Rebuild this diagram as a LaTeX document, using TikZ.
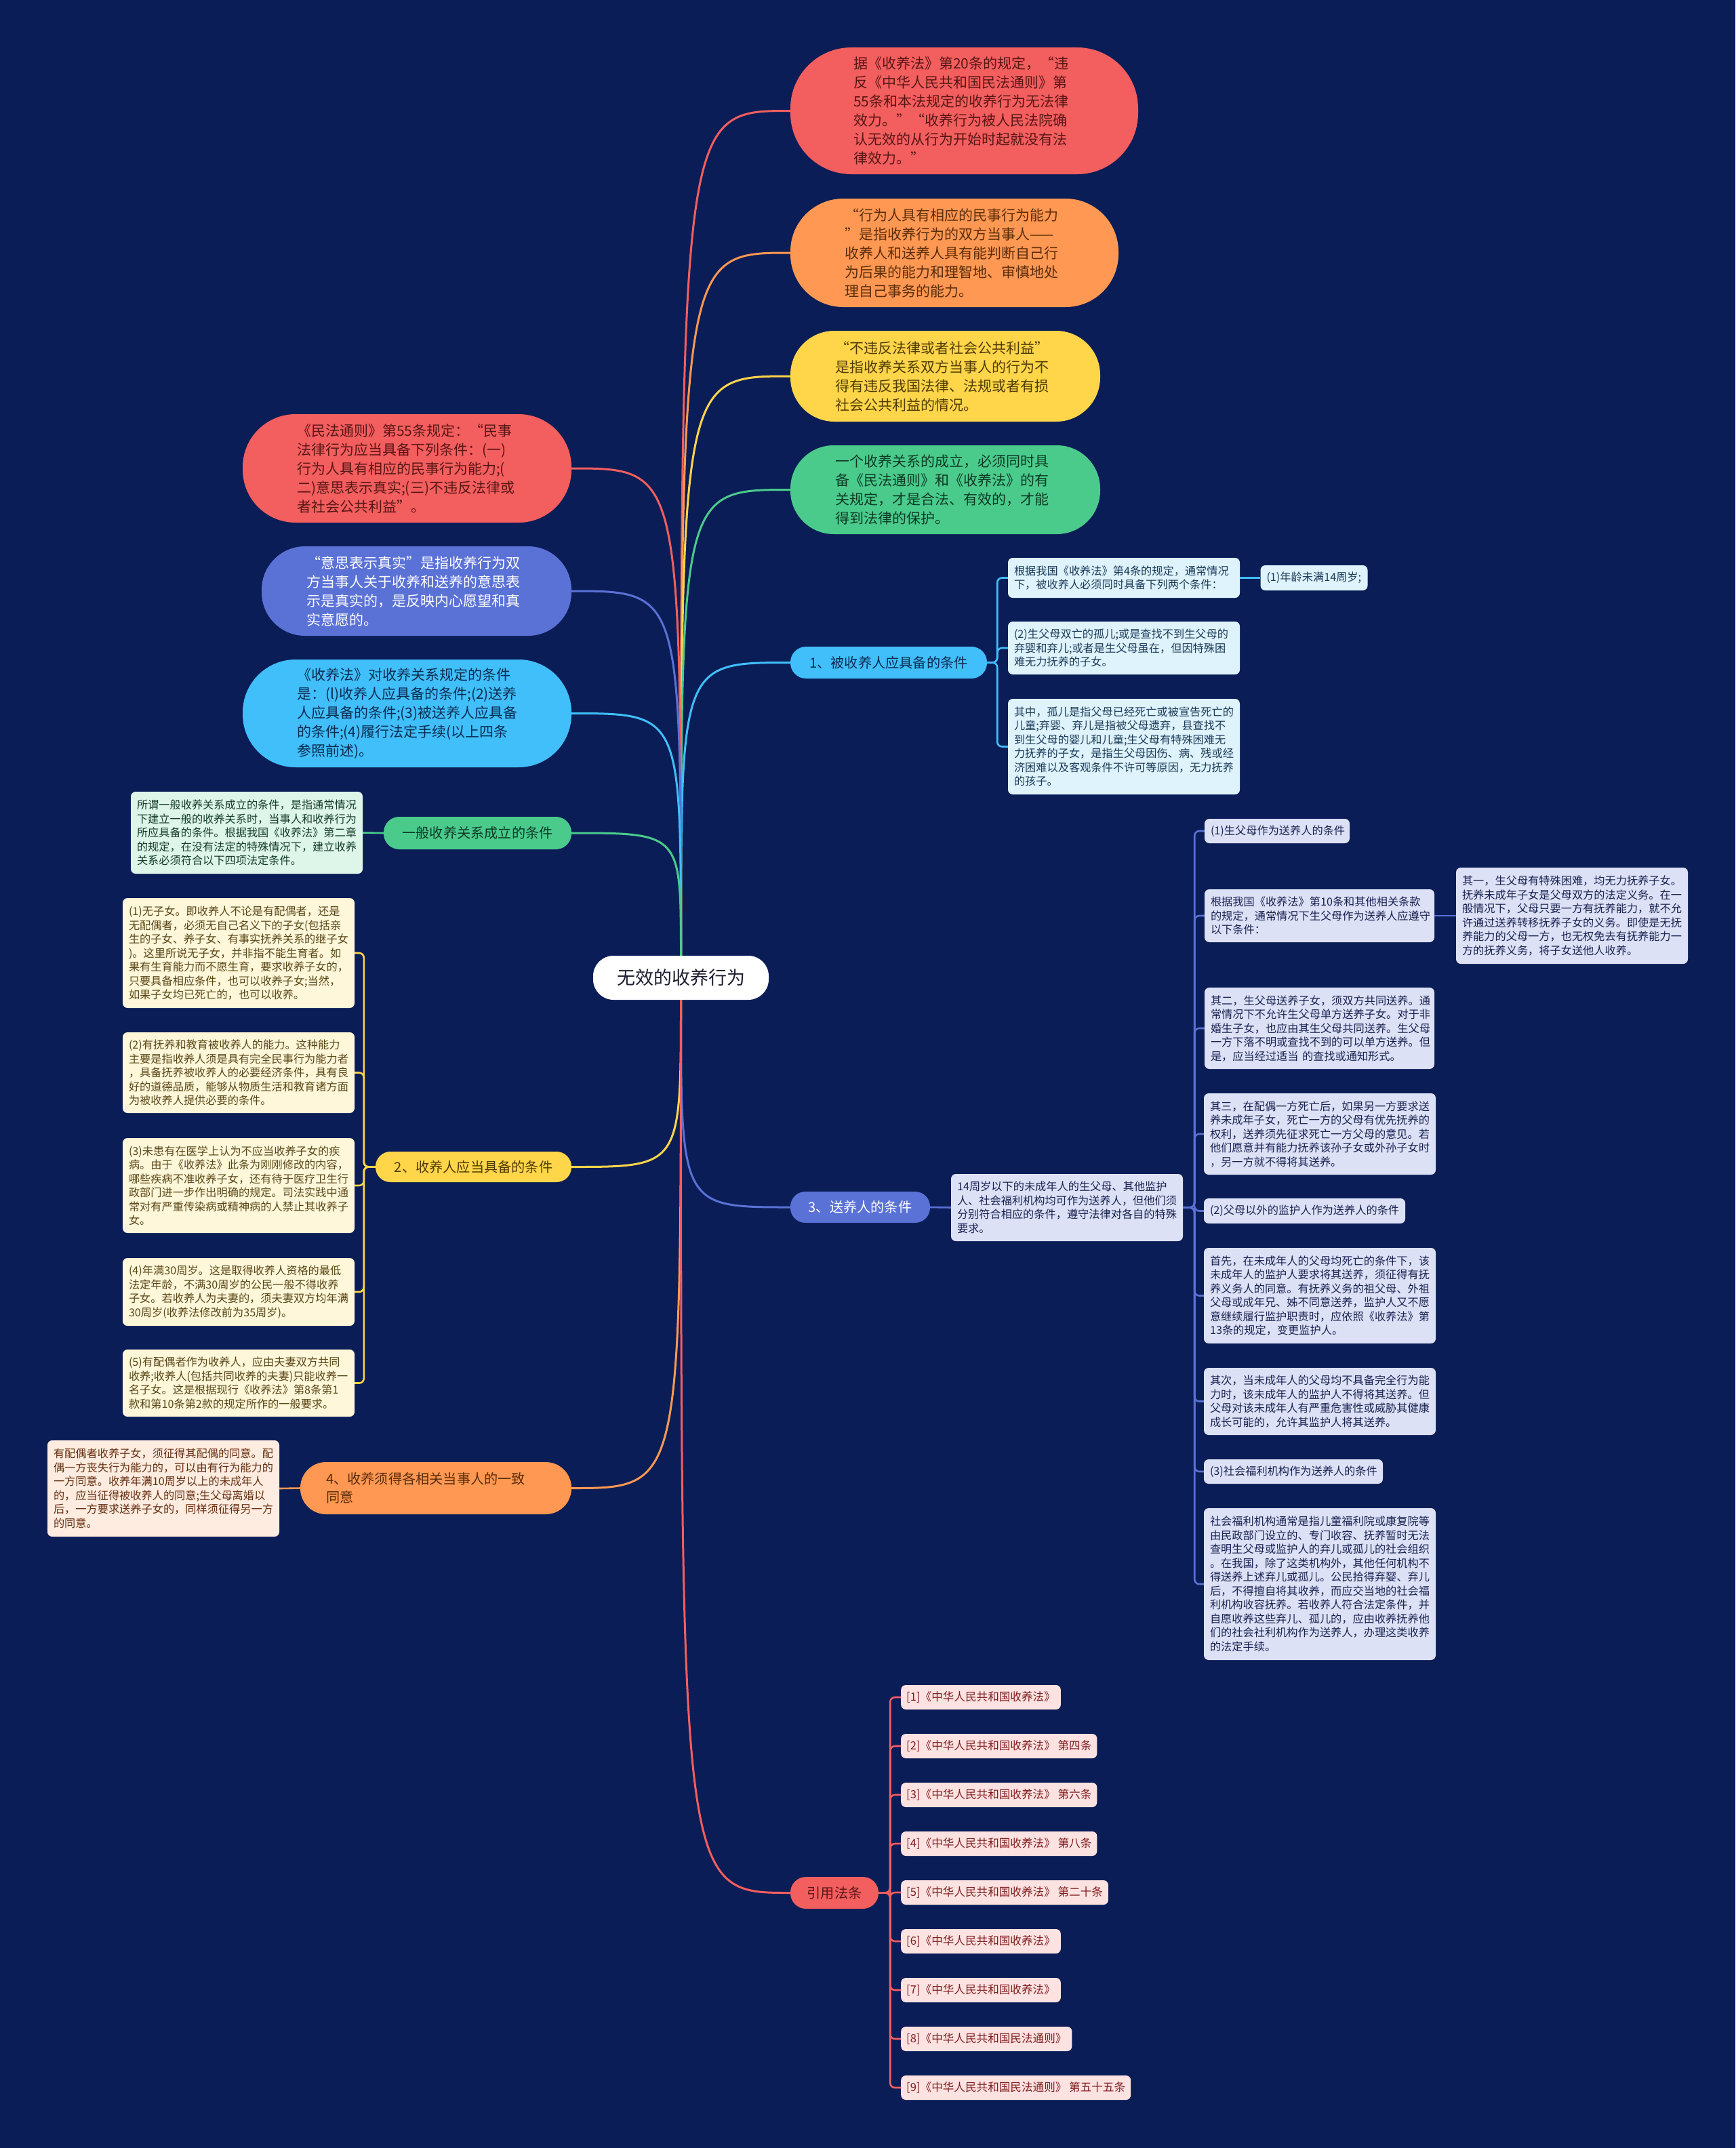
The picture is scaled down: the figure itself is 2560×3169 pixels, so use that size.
\documentclass[tikz,border=0pt]{standalone}
\usepackage{fontspec}
\setmainfont{Noto Sans CJK SC}
\definecolor{bgc}{RGB}{11,29,86}
\definecolor{cR}{RGB}{243,94,94}
\definecolor{tR}{RGB}{88,22,22}
\definecolor{cO}{RGB}{255,152,82}
\definecolor{tO}{RGB}{90,44,10}
\definecolor{cY}{RGB}{255,213,74}
\definecolor{tY}{RGB}{78,60,0}
\definecolor{cG}{RGB}{74,203,140}
\definecolor{tG}{RGB}{12,58,36}
\definecolor{cLB}{RGB}{64,191,250}
\definecolor{tLB}{RGB}{10,44,80}
\definecolor{cP}{RGB}{90,113,214}
\definecolor{kLB}{RGB}{222,243,252}
\definecolor{kG}{RGB}{222,245,233}
\definecolor{kY}{RGB}{255,247,218}
\definecolor{kP}{RGB}{221,225,246}
\definecolor{kO}{RGB}{255,236,224}
\definecolor{kR}{RGB}{253,226,226}
\definecolor{ktLB}{RGB}{28,58,88}
\definecolor{ktG}{RGB}{20,60,40}
\definecolor{ktY}{RGB}{88,70,22}
\definecolor{ktP}{RGB}{24,34,80}
\definecolor{ktO}{RGB}{100,46,16}
\definecolor{ktR}{RGB}{128,30,30}
\definecolor{ctext}{RGB}{30,30,50}
\begin{document}
\begin{tikzpicture}[x=1pt,y=-1pt,
  ln/.style={line width=3pt},
  kl/.style={line width=2.6pt, rounded corners=7pt},
  bub/.style={rectangle, inner ysep=0pt, align=left, font=\fontsize{21}{28}\selectfont},
  br/.style={rectangle, inner ysep=0pt, align=center, font=\fontsize{20.2}{27}\selectfont},
  kid/.style={rectangle, rounded corners=7pt, inner xsep=9pt, inner ysep=0pt, align=left, text width=324pt, font=\fontsize{16.2}{20.5}\selectfont},
  refbox/.style={rectangle, rounded corners=7pt, inner xsep=8pt, inner ysep=0pt, anchor=west, minimum height=36pt, font=\fontsize{16.6}{20}\selectfont, fill=kR, text=ktR},
]
\fill[bgc] (0,0) rectangle (2560,3169);
\useasboundingbox (0,0) rectangle (2560,3169);

% center
\node[fill=white, rounded corners=30pt, minimum width=259pt, minimum height=65pt, inner sep=0pt, font=\fontsize{27}{32}\selectfont, text=ctext] (C) at (1004.5,1442.5) {无效的收养行为};

% right bubbles
\node[bub, fill=cR, text=tR, minimum height=187pt, text width=327pt, inner xsep=93pt, rounded corners=90pt] (R1) at (1422.5,163.5)
{据《收养法》第20条的规定，“违\\反《中华人民共和国民法通则》第\\55条和本法规定的收养行为无法律\\效力。”“收养行为被人民法院确\\认无效的从行为开始时起就没有法\\律效力。”};
\node[bub, fill=cO, text=tO, minimum height=160pt, text width=324pt, inner xsep=80pt, rounded corners=78pt] (R2) at (1408,373)
{“行为人具有相应的民事行为能力\\”是指收养行为的双方当事人——\\收养人和送养人具有能判断自己行\\为后果的能力和理智地、审慎地处\\理自己事务的能力。};
\node[bub, fill=cY, text=tY, minimum height=134pt, text width=325pt, inner xsep=66pt, rounded corners=65pt] (R3) at (1394.5,555)
{“不违反法律或者社会公共利益”\\是指收养关系双方当事人的行为不\\得有违反我国法律、法规或者有损\\社会公共利益的情况。};
\node[bub, fill=cG, text=tG, minimum height=131pt, text width=325pt, inner xsep=66pt, rounded corners=64pt] (R4) at (1394.5,722.5)
{一个收养关系的成立，必须同时具\\备《民法通则》和《收养法》的有\\关规定，才是合法、有效的，才能\\得到法律的保护。};

% left bubbles
\node[bub, fill=cR, text=tR, minimum height=160pt, text width=325pt, inner xsep=80pt, rounded corners=78pt] (L1) at (600.5,691)
{《民法通则》第55条规定：“民事\\法律行为应当具备下列条件：(一)\\行为人具有相应的民事行为能力;(\\二)意思表示真实;(三)不违反法律或\\者社会公共利益”。};
\node[bub, fill=cP, text=white, minimum height=132pt, text width=325pt, inner xsep=66pt, rounded corners=64pt] (L2) at (614.5,872)
{“意思表示真实”是指收养行为双\\方当事人关于收养和送养的意思表\\示是真实的，是反映内心愿望和真\\实意愿的。};
\node[bub, fill=cLB, text=tLB, minimum height=159pt, text width=325pt, inner xsep=80pt, rounded corners=78pt] (L3) at (600.5,1052.5)
{《收养法》对收养关系规定的条件\\是：(l)收养人应具备的条件;(2)送养\\人应具备的条件;(3)被送养人应具备\\的条件;(4)履行法定手续(以上四条\\参照前述)。};

% branch nodes
\node[br, fill=cLB, text=tLB, minimum width=290pt, minimum height=47pt, rounded corners=23pt] (B1) at (1311,977.5) {1、被收养人应具备的条件};
\node[br, fill=cG, text=tG, minimum width=277pt, minimum height=48pt, rounded corners=23pt] (BG) at (704.5,1229) {一般收养关系成立的条件};
\node[br, fill=cY, text=tY, minimum width=289pt, minimum height=45pt, rounded corners=22pt] (B2) at (698.5,1721.5) {2、收养人应当具备的条件};
\node[br, fill=cP, text=white, minimum width=206pt, minimum height=46pt, rounded corners=22pt] (B3) at (1269,1781) {3、送养人的条件};
\node[br, align=left, fill=cO, text=tO, text width=324pt, inner xsep=38pt, minimum height=77pt, rounded corners=38pt] (B4) at (643,2195.5) {4、收养须得各相关当事人的一致\\同意};
\node[br, fill=cR, text=tR, minimum width=130pt, minimum height=47pt, rounded corners=23pt] (BR) at (1231,2792.5) {引用法条};

% branch 1 children
\node[kid, fill=kLB, text=ktLB, minimum height=59pt] (a1) at (1658,852.5)
{根据我国《收养法》第4条的规定，通常情况\\下，被收养人必须同时具备下列两个条件：};
\node[kid, fill=kLB, text=ktLB, minimum height=37pt, text width=140pt] (a1x) at (1938.5,852.5) {(1)年龄未满14周岁;};
\node[kid, fill=kLB, text=ktLB, minimum height=78pt] (a2) at (1658,956)
{(2)生父母双亡的孤儿;或是查找不到生父母的\\弃婴和弃儿;或者是生父母虽在，但因特殊困\\难无力抚养的子女。};
\node[kid, fill=kLB, text=ktLB, minimum height=141pt] (a3) at (1658,1101.5)
{其中，孤儿是指父母已经死亡或被宣告死亡的\\儿童;弃婴、弃儿是指被父母遗弃，县查找不\\到生父母的婴儿和儿童;生父母有特殊困难无\\力抚养的子女，是指生父母因伤、病、残或经\\济困难以及客观条件不许可等原因，无力抚养\\的孩子。};

% general child
\node[kid, fill=kG, text=ktG, minimum height=121pt] (g1) at (364,1228.5)
{所谓一般收养关系成立的条件，是指通常情况\\下建立一般的收养关系时，当事人和收养行为\\所应具备的条件。根据我国《收养法》第二章\\的规定，在没有法定的特殊情况下，建立收养\\关系必须符合以下四项法定条件。};

% branch 2 children
\node[kid, fill=kY, text=ktY, minimum height=162pt] (b1) at (352,1406)
{(1)无子女。即收养人不论是有配偶者，还是\\无配偶者，必须无自己名义下的子女(包括亲\\生的子女、养子女、有事实抚养关系的继子女\\)。这里所说无子女，并非指不能生育者。如\\果有生育能力而不愿生育，要求收养子女的，\\只要具备相应条件，也可以收养子女;当然，\\如果子女均已死亡的，也可以收养。};
\node[kid, fill=kY, text=ktY, minimum height=119pt] (b2) at (352,1582.5)
{(2)有抚养和教育被收养人的能力。这种能力\\主要是指收养人须是具有完全民事行为能力者\\，具备抚养被收养人的必要经济条件，具有良\\好的道德品质，能够从物质生活和教育诸方面\\为被收养人提供必要的条件。};
\node[kid, fill=kY, text=ktY, minimum height=140pt] (b3) at (352,1749)
{(3)未患有在医学上认为不应当收养子女的疾\\病。由于《收养法》此条为刚刚修改的内容，\\哪些疾病不准收养子女，还有待于医疗卫生行\\政部门进一步作出明确的规定。司法实践中通\\常对有严重传染病或精神病的人禁止其收养子\\女。};
\node[kid, fill=kY, text=ktY, minimum height=100pt] (b4) at (352,1906)
{(4)年满30周岁。这是取得收养人资格的最低\\法定年龄，不满30周岁的公民一般不得收养\\子女。若收养人为夫妻的，须夫妻双方均年满\\30周岁(收养法修改前为35周岁)。};
\node[kid, fill=kY, text=ktY, minimum height=99pt] (b5) at (352,2040.5)
{(5)有配偶者作为收养人，应由夫妻双方共同\\收养;收养人(包括共同收养的夫妻)只能收养一\\名子女。这是根据现行《收养法》第8条第1\\款和第10条第2款的规定所作的一般要求。};

% branch 4 child
\node[kid, fill=kO, text=ktO, minimum height=142pt] (d1) at (241,2196)
{有配偶者收养子女，须征得其配偶的同意。配\\偶一方丧失行为能力的，可以由有行为能力的\\一方同意。收养年满10周岁以上的未成年人\\的，应当征得被收养人的同意;生父母离婚以\\后，一方要求送养子女的，同样须征得另一方\\的同意。};

% branch 3
\node[kid, fill=kP, text=ktP, minimum height=99pt] (e0) at (1574,1781.5)
{14周岁以下的未成年人的生父母、其他监护\\人、社会福利机构均可作为送养人，但他们须\\分别符合相应的条件，遵守法律对各自的特殊\\要求。};
\node[kid, fill=kP, text=ktP, minimum height=36pt, text width=196pt] (e1) at (1884,1226) {(1)生父母作为送养人的条件};
\node[kid, fill=kP, text=ktP, minimum height=78pt, text width=321pt] (e2) at (1946.5,1351)
{根据我国《收养法》第10条和其他相关条款\\的规定，通常情况下生父母作为送养人应遵守\\以下条件：};
\node[kid, fill=kP, text=ktP, minimum height=142pt] (e2x) at (2319,1351)
{其一，生父母有特殊困难，均无力抚养子女。\\抚养未成年子女是父母双方的法定义务。在一\\般情况下，父母只要一方有抚养能力，就不允\\许通过送养转移抚养子女的义务。即使是无抚\\养能力的父母一方，也无权免去有抚养能力一\\方的抚养义务，将子女送他人收养。};
\node[kid, fill=kP, text=ktP, minimum height=120pt, text width=321pt] (e3) at (1946.5,1517)
{其二，生父母送养子女，须双方共同送养。通\\常情况下不允许生父母单方送养子女。对于非\\婚生子女，也应由其生父母共同送养。生父母\\一方下落不明或查找不到的可以单方送养。但\\是，应当经过适当 的查找或通知形式。};
\node[kid, fill=kP, text=ktP, minimum height=120pt] (e4) at (1947,1673)
{其三，在配偶一方死亡后，如果另一方要求送\\养未成年子女，死亡一方的父母有优先抚养的\\权利，送养须先征求死亡一方父母的意见。若\\他们愿意并有能力抚养该孙子女或外孙子女时\\，另一方就不得将其送养。};
\node[kid, fill=kP, text=ktP, minimum height=37pt, text width=279pt] (e5) at (1924.5,1786.5) {(2)父母以外的监护人作为送养人的条件};
\node[kid, fill=kP, text=ktP, minimum height=141pt] (e6) at (1947,1911.5)
{首先，在未成年人的父母均死亡的条件下，该\\未成年人的监护人要求将其送养，须征得有抚\\养义务人的同意。有抚养义务的祖父母、外祖\\父母或成年兄、姊不同意送养，监护人又不愿\\意继续履行监护职责时，应依照《收养法》第\\13条的规定，变更监护人。};
\node[kid, fill=kP, text=ktP, minimum height=99pt] (e7) at (1947,2067.5)
{其次，当未成年人的父母均不具备完全行为能\\力时，该未成年人的监护人不得将其送养。但\\父母对该未成年人有严重危害性或威胁其健康\\成长可能的，允许其监护人将其送养。};
\node[kid, fill=kP, text=ktP, minimum height=36pt, text width=246pt] (e8) at (1908,2171) {(3)社会福利机构作为送养人的条件};
\node[kid, fill=kP, text=ktP, minimum height=224pt] (e9) at (1947,2337)
{社会福利机构通常是指儿童福利院或康复院等\\由民政部门设立的、专门收容、抚养暂时无法\\查明生父母或监护人的弃儿或孤儿的社会组织\\。在我国，除了这类机构外，其他任何机构不\\得送养上述弃儿或孤儿。公民拾得弃婴、弃儿\\后，不得擅自将其收养，而应交当地的社会福\\利机构收容抚养。若收养人符合法定条件，并\\自愿收养这些弃儿、孤儿的，应由收养抚养他\\们的社会社利机构作为送养人，办理这类收养\\的法定手续。};

% references
\node[refbox] (f1) at (1329,2504) {[1]《中华人民共和国收养法》};
\node[refbox] (f2) at (1329,2576) {[2]《中华人民共和国收养法》 第四条};
\node[refbox] (f3) at (1329,2648) {[3]《中华人民共和国收养法》 第六条};
\node[refbox] (f4) at (1329,2720) {[4]《中华人民共和国收养法》 第八条};
\node[refbox] (f5) at (1329,2792) {[5]《中华人民共和国收养法》 第二十条};
\node[refbox] (f6) at (1329,2864) {[6]《中华人民共和国收养法》};
\node[refbox] (f7) at (1329,2936) {[7]《中华人民共和国收养法》};
\node[refbox] (f8) at (1329,3008) {[8]《中华人民共和国民法通则》};
\node[refbox] (f9) at (1329,3080) {[9]《中华人民共和国民法通则》 第五十五条};

% top-level connectors
\foreach \n/\c in {R1/cR, R2/cO, R3/cY, R4/cG, B1/cLB}
  \draw[ln, \c] (C.north) .. controls (C.north |- \n.west) .. (\n.west);
\foreach \n/\c in {L1/cR, L2/cP, L3/cLB, BG/cG}
  \draw[ln, \c] (C.north) .. controls (C.north |- \n.east) .. (\n.east);
\foreach \n/\c in {B2/cY, B4/cO}
  \draw[ln, \c] (C.south) .. controls (C.south |- \n.east) .. (\n.east);
\foreach \n/\c in {B3/cP, BR/cR}
  \draw[ln, \c] (C.south) .. controls (C.south |- \n.west) .. (\n.west);

% branch connectors
\foreach \k in {a1, a2, a3}
  \draw[kl, cLB] (B1.east) -- ++(15,0) |- (\k.west);
\draw[kl, cLB] (a1.east) -- (a1x.west);
\draw[kl, cG] (BG.west) -- (g1.east);
\foreach \k in {b1, b2, b3, b4, b5}
  \draw[kl, cY] (B2.west) -- ++(-17,0) |- (\k.east);
\draw[kl, cO] (B4.west) -- (d1.east);
\draw[kl, cP] (B3.east) -- (e0.west);
\foreach \k in {e1, e2, e3, e4, e5, e6, e7, e8, e9}
  \draw[kl, cP] (e0.east) -- ++(17,0) |- (\k.west);
\draw[kl, cP] (e2.east) -- (e2x.west);
\foreach \k in {f1, f2, f3, f4, f5, f6, f7, f8, f9}
  \draw[kl, cR] (BR.east) -- ++(17,0) |- (\k.west);
\end{tikzpicture}
\end{document}
